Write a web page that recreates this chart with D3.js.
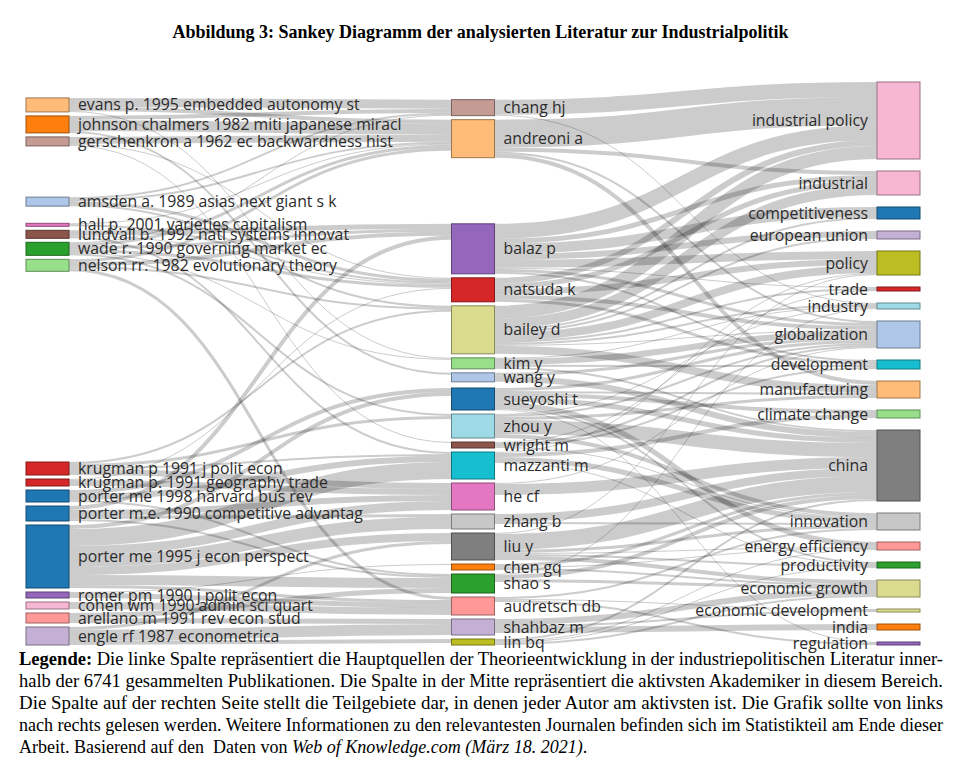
<!DOCTYPE html>
<html><head><meta charset="utf-8">
<script src="https://cdn.jsdelivr.net/npm/d3@7"></script>
<style>body{margin:0;background:#fff}svg{display:block}</style>
</head><body>
<svg id="chart" width="964" height="778"></svg>
<script>
// ---------- DATA ----------
const citedSources = [
  "evans p. 1995 embedded autonomy st",
  "johnson chalmers 1982 miti japanese miracl",
  "gerschenkron a 1962 ec backwardness hist",
  "amsden a. 1989 asias next giant s k",
  "hall p. 2001 varieties capitalism",
  "lundvall b. 1992 natl systems innovat",
  "wade r. 1990 governing market ec",
  "nelson rr. 1982 evolutionary theory",
  "krugman p 1991 j polit econ",
  "krugman p. 1991 geography trade",
  "porter me 1998 harvard bus rev",
  "porter m.e. 1990 competitive advantag",
  "porter me 1995 j econ perspect",
  "romer pm 1990 j polit econ",
  "cohen wm 1990 admin sci quart",
  "arellano m 1991 rev econ stud",
  "engle rf 1987 econometrica"
];
const authors = ["chang hj","andreoni a","balaz p","natsuda k","bailey d","kim y","wang y","sueyoshi t","zhou y","wright m","mazzanti m","he cf","zhang b","liu y","chen gq","shao s","audretsch db","shahbaz m","lin bq"];
const keywords = ["industrial policy","industrial","competitiveness","european union","policy","trade","industry","globalization","development","manufacturing","climate change","china","innovation","energy efficiency","productivity","economic growth","economic development","india","regulation"];

// [cited source, author, co-occurrences]
const sourceToAuthor = [
  ["evans p. 1995 embedded autonomy st","chang hj",9],["evans p. 1995 embedded autonomy st","andreoni a",4],["evans p. 1995 embedded autonomy st","kim y",1],
  ["johnson chalmers 1982 miti japanese miracl","chang hj",4],["johnson chalmers 1982 miti japanese miracl","andreoni a",11],["johnson chalmers 1982 miti japanese miracl","wang y",2],
  ["gerschenkron a 1962 ec backwardness hist","andreoni a",7],["gerschenkron a 1962 ec backwardness hist","natsuda k",1],["gerschenkron a 1962 ec backwardness hist","wright m",1],
  ["amsden a. 1989 asias next giant s k","chang hj",2],["amsden a. 1989 asias next giant s k","andreoni a",2],["amsden a. 1989 asias next giant s k","natsuda k",3],["amsden a. 1989 asias next giant s k","bailey d",2],
  ["hall p. 2001 varieties capitalism","andreoni a",1],["hall p. 2001 varieties capitalism","natsuda k",2],
  ["lundvall b. 1992 natl systems innovat","balaz p",5],["lundvall b. 1992 natl systems innovat","natsuda k",1],["lundvall b. 1992 natl systems innovat","mazzanti m",2],
  ["wade r. 1990 governing market ec","chang hj",1],["wade r. 1990 governing market ec","andreoni a",3],["wade r. 1990 governing market ec","natsuda k",3],["wade r. 1990 governing market ec","balaz p",3],["wade r. 1990 governing market ec","kim y",1],["wade r. 1990 governing market ec","zhou y",2],
  ["nelson rr. 1982 evolutionary theory","andreoni a",3],["nelson rr. 1982 evolutionary theory","balaz p",4],["nelson rr. 1982 evolutionary theory","bailey d",2],["nelson rr. 1982 evolutionary theory","audretsch db",3],
  ["krugman p 1991 j polit econ","bailey d",2],["krugman p 1991 j polit econ","zhou y",3],["krugman p 1991 j polit econ","mazzanti m",2],["krugman p 1991 j polit econ","he cf",6],
  ["krugman p. 1991 geography trade","natsuda k",1],["krugman p. 1991 geography trade","he cf",6],
  ["porter me 1998 harvard bus rev","sueyoshi t",4],["porter me 1998 harvard bus rev","mazzanti m",6],["porter me 1998 harvard bus rev","shao s",2],
  ["porter m.e. 1990 competitive advantag","balaz p",4],["porter m.e. 1990 competitive advantag","he cf",6],["porter m.e. 1990 competitive advantag","zhang b",3],["porter m.e. 1990 competitive advantag","shao s",2],
  ["porter me 1995 j econ perspect","sueyoshi t",4],["porter me 1995 j econ perspect","mazzanti m",17],["porter me 1995 j econ perspect","he cf",9],["porter me 1995 j econ perspect","zhang b",12],["porter me 1995 j econ perspect","liu y",8],["porter me 1995 j econ perspect","shao s",10],["porter me 1995 j econ perspect","audretsch db",3],
  ["romer pm 1990 j polit econ","chen gq",1],["romer pm 1990 j polit econ","audretsch db",5],
  ["cohen wm 1990 admin sci quart","audretsch db",7],
  ["arellano m 1991 rev econ stud","shao s",5],["arellano m 1991 rev econ stud","shahbaz m",5],
  ["engle rf 1987 econometrica","liu y",3],["engle rf 1987 econometrica","shahbaz m",11],["engle rf 1987 econometrica","lin bq",4]
];

// [author, keyword, co-occurrences]
const authorToKeyword = [
  ["chang hj","industrial policy",15],["chang hj","industry",1],
  ["andreoni a","industrial policy",28],["andreoni a","industrial",4],["andreoni a","manufacturing",4],["andreoni a","globalization",2],
  ["balaz p","industrial policy",15],["balaz p","competitiveness",10],["balaz p","european union",6],["balaz p","policy",8],["balaz p","industrial",5],["balaz p","globalization",3],["balaz p","trade",1],["balaz p","development",2],
  ["natsuda k","industrial policy",6],["natsuda k","industrial",5],["natsuda k","policy",6],["natsuda k","globalization",4],["natsuda k","development",3],
  ["bailey d","industrial policy",13],["bailey d","industrial",10],["bailey d","policy",8],["bailey d","manufacturing",8],["bailey d","competitiveness",2],["bailey d","european union",2],["bailey d","industry",2],["bailey d","trade",2],["bailey d","globalization",1],
  ["kim y","globalization",6],["kim y","development",2],["kim y","china",2],["kim y","industry",1],
  ["wang y","china",6],["wang y","globalization",3],
  ["sueyoshi t","energy efficiency",5],["sueyoshi t","climate change",4],["sueyoshi t","china",5],["sueyoshi t","globalization",3],["sueyoshi t","productivity",2],["sueyoshi t","regulation",1],["sueyoshi t","manufacturing",2],
  ["zhou y","china",14],["zhou y","innovation",4],["zhou y","manufacturing",3],["zhou y","globalization",2],["zhou y","industry",1],
  ["wright m","globalization",2],["wright m","trade",1],["wright m","development",2],["wright m","innovation",1],
  ["mazzanti m","innovation",5],["mazzanti m","climate change",4],["mazzanti m","policy",1],["mazzanti m","productivity",1],
  ["he cf","china",11],["he cf","globalization",1],
  ["zhang b","china",8],["zhang b","innovation",2],
  ["liu y","china",16],["liu y","innovation",3],["liu y","economic growth",4],["liu y","productivity",2],["liu y","energy efficiency",1],["liu y","policy",1],
  ["chen gq","china",3],["chen gq","energy efficiency",1],["chen gq","economic growth",2],
  ["shao s","china",4],["shao s","economic growth",3],["shao s","industry",1],
  ["audretsch db","innovation",2],["audretsch db","regulation",2],["audretsch db","economic development",1],
  ["shahbaz m","economic growth",6],["shahbaz m","india",6],["shahbaz m","economic development",2],
  ["lin bq","china",2],["lin bq","energy efficiency",1],["lin bq","economic growth",2],["lin bq","productivity",1]
];

const titleText = "Abbildung 3: Sankey Diagramm der analysierten Literatur zur Industrialpolitik";
const captionLines = [
  [["Legende:", "bold"], [" Die linke Spalte repräsentiert die Hauptquellen der Theorieentwicklung in der industriepolitischen Literatur inner-", "normal"]],
  [["halb der 6741 gesammelten Publikationen. Die Spalte in der Mitte repräsentiert die aktivsten Akademiker in diesem Bereich.", "normal"]],
  [["Die Spalte auf der rechten Seite stellt die Teilgebiete dar, in denen jeder Autor am aktivsten ist. Die Grafik sollte von links", "normal"]],
  [["nach rechts gelesen werden. Weitere Informationen zu den relevantesten Journalen befinden sich im Statistikteil am Ende dieser", "normal"]],
  [["Arbeit. Basierend auf den  Daten von ", "normal"], ["Web of Knowledge.com (März 18. 2021)", "italic"], [".", "normal"]]
];

// ---------- STYLE ----------
const sourceColors = ["#ffbb78","#ff7f0e","#c49c94","#aec7e8","#e377c2","#8c564b","#2ca02c","#98df8a","#d62728","#d62728","#1f77b4","#1f77b4","#1f77b4","#9467bd","#f7b6d2","#ff9896","#c5b0d5"];
const authorColors = ["#c49c94","#ffbb78","#9467bd","#d62728","#dbdb8d","#98df8a","#aec7e8","#1f77b4","#9edae5","#8c564b","#17becf","#e377c2","#c7c7c7","#7f7f7f","#ff7f0e","#2ca02c","#ff9896","#c5b0d5","#bcbd22"];
const keywordColors = ["#f7b6d2","#f7b6d2","#1f77b4","#c5b0d5","#bcbd22","#d62728","#9edae5","#aec7e8","#17becf","#ffbb78","#98df8a","#7f7f7f","#c7c7c7","#ff9896","#2ca02c","#dbdb8d","#dbdb8d","#ff7f0e","#9467bd"];

const nodeWidth = 43, labelGap = 9;
const plotTop = 47, plotBottom = 645;
const columnX = d3.scaleLinear().domain([0, 2]).range([26, 877]);
const scalePad = 10.5;               // padding used to derive the value scale
const columnPad = [4, 4, 12];        // minimum gap between nodes, per column
const columnStep = [1, 0.8, 1];      // relaxation step factor, per column
const layoutParams = {iterations: 4, alpha: 0.7, decay: 0.99, weightExp: 4};
const labelFont = "'Open Sans', sans-serif";
const serifFont = "'Liberation Serif', 'Times New Roman', serif";

// ---------- SANKEY LAYOUT (relaxation with fixed node order) ----------
const nodeByKey = new Map();
const columns = [citedSources, authors, keywords].map((names, c) => names.map((name, i) => {
  const n = {name, col: c, color: [sourceColors, authorColors, keywordColors][c][i], sourceLinks: [], targetLinks: []};
  nodeByKey.set(c + "|" + name, n);
  return n;
}));
const links = [];
function addLinks(list, c) {
  list.forEach(([s, t, v]) => {
    const l = {source: nodeByKey.get(c + "|" + s), target: nodeByKey.get((c + 1) + "|" + t), value: v};
    l.source.sourceLinks.push(l); l.target.targetLinks.push(l); links.push(l);
  });
}
addLinks(sourceToAuthor, 0);
addLinks(authorToKeyword, 1);
const allNodes = columns.flat();
allNodes.forEach(n => {
  n.value = Math.max(d3.sum(n.sourceLinks, l => l.value), d3.sum(n.targetLinks, l => l.value));
  n.x0 = columnX(n.col); n.x1 = n.x0 + nodeWidth;
});
const ky = d3.min(columns, col => (plotBottom - plotTop - (col.length - 1) * scalePad) / d3.sum(col, n => n.value));
const size = d3.scaleLinear().domain([0, 1]).range([0, ky]);

const center = n => (n.y0 + n.y1) / 2;
const shift = (n, dy) => { n.y0 += dy; n.y1 += dy; };
const weight = l => Math.pow(l.value, layoutParams.weightExp);

columns.forEach((col, c) => {
  let y = plotTop;
  col.forEach(n => { n.y0 = y; n.y1 = y + size(n.value); y = n.y1 + columnPad[c]; });
});
function resolveCollisions() {
  columns.forEach((col, c) => {
    const pad = columnPad[c];
    let y = plotTop, n;
    for (n of col) { const dy = y - n.y0; if (dy > 0) shift(n, dy); y = n.y1 + pad; }
    let dy = y - pad - plotBottom;
    if (dy > 0) {
      shift(n, -dy); y = n.y0;
      for (let i = col.length - 2; i >= 0; --i) {
        const m = col[i]; dy = m.y1 + pad - y;
        if (dy > 0) shift(m, -dy);
        y = m.y0;
      }
    }
  });
}
function relaxRightToLeft(a) {
  for (let c = columns.length - 2; c >= 0; c--) columns[c].forEach(n => {
    if (!n.sourceLinks.length) return;
    const w = d3.sum(n.sourceLinks, l => center(l.target) * weight(l)) / d3.sum(n.sourceLinks, weight);
    shift(n, (w - center(n)) * a * columnStep[c]);
  });
  resolveCollisions();
}
function relaxLeftToRight(a) {
  for (let c = 1; c < columns.length; c++) columns[c].forEach(n => {
    if (!n.targetLinks.length) return;
    const w = d3.sum(n.targetLinks, l => center(l.source) * weight(l)) / d3.sum(n.targetLinks, weight);
    shift(n, (w - center(n)) * a * columnStep[c]);
  });
  resolveCollisions();
}
resolveCollisions();
let alpha = layoutParams.alpha;
for (let it = 0; it < layoutParams.iterations; it++) {
  alpha *= layoutParams.decay;
  relaxRightToLeft(alpha);
  relaxLeftToRight(alpha);
}
allNodes.forEach(n => {
  n.sourceLinks.sort((a, b) => a.target.y0 - b.target.y0);
  n.targetLinks.sort((a, b) => a.source.y0 - b.source.y0);
  let y = n.y0;
  n.sourceLinks.forEach(l => { l.width = size(l.value); l.y0 = y + l.width / 2; y += l.width; });
  y = n.y0;
  n.targetLinks.forEach(l => { l.y1 = y + l.width / 2; y += l.width; });
});

// ---------- DRAW ----------
const svg = d3.select("#chart");
const linkPath = d3.linkHorizontal();
svg.append("g").attr("fill", "none").attr("stroke", "#000").attr("stroke-opacity", 0.2)
  .selectAll("path").data(links).join("path")
  .attr("d", l => linkPath({source: [l.source.x1, l.y0], target: [l.target.x0, l.y1]}))
  .attr("stroke-width", l => Math.max(0.5, l.width));

svg.append("g").selectAll("rect").data(allNodes).join("rect")
  .attr("x", n => n.x0).attr("y", n => n.y0)
  .attr("width", nodeWidth).attr("height", n => Math.max(1, n.y1 - n.y0))
  .attr("fill", n => n.color)
  .attr("stroke", n => d3.rgb(n.color).darker(1.3))
  .attr("stroke-width", 1);

svg.append("g").attr("font-family", labelFont).attr("font-size", 15.8).attr("fill", "#2b2b2b")
  .selectAll("text").data(allNodes).join("text")
  .attr("x", n => n.col < 2 ? n.x1 + labelGap : n.x0 - labelGap)
  .attr("y", n => center(n)).attr("dy", "0.35em")
  .attr("text-anchor", n => n.col < 2 ? "start" : "end")
  .text(n => n.name);

svg.append("text").attr("x", 480.5).attr("y", 38).attr("text-anchor", "middle")
  .attr("font-family", serifFont).attr("font-weight", "bold").attr("font-size", 18)
  .attr("fill", "#000").text(titleText);

const captionBase = 665, captionStep = 22, captionLeft = 19;
const captionWidths = [924, 924, 924, 924, null];
captionLines.forEach((parts, i) => {
  const t = svg.append("text").attr("x", captionLeft).attr("y", captionBase + i * captionStep)
    .attr("font-family", serifFont).attr("font-size", 18).attr("fill", "#000")
    .style("white-space", "pre");
  if (captionWidths[i]) t.attr("textLength", captionWidths[i]).attr("lengthAdjust", "spacingAndGlyphs");
  parts.forEach(([s, style]) => {
    const ts = t.append("tspan").text(s);
    if (style === "bold") ts.attr("font-weight", "bold");
    if (style === "italic") ts.attr("font-style", "italic");
  });
});
</script>
</body></html>
